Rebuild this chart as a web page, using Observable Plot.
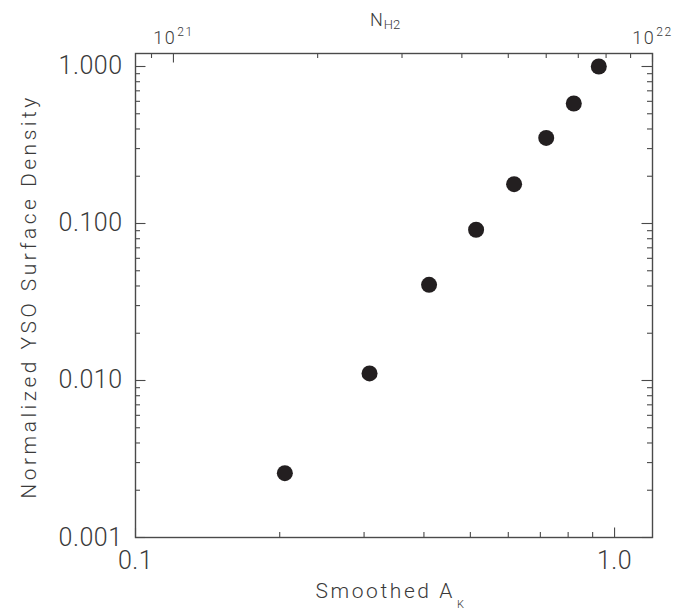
<!DOCTYPE html>
<html><head><meta charset="utf-8">
<script src="https://cdn.jsdelivr.net/npm/d3@7"></script>
<script src="https://cdn.jsdelivr.net/npm/@observablehq/plot@0.6"></script>
<style>
html,body{margin:0;padding:0;background:#fff;}
#chart{width:699px;height:609px;}
</style></head><body><div id="chart"></div>
<script>
// ---- data ----
const smoothedAK = [0.205, 0.308, 0.41, 0.514, 0.617, 0.72, 0.822, 0.927];
const ysoDensity = [0.00257, 0.0111, 0.0407, 0.0912, 0.178, 0.351, 0.581, 1.0];

// ---- tick values / labels ----
const xMajorTicks = [0.1, 1.0];
const xTickLabels = ["0.1", "1.0"];
const xMinorTicks = [0.2, 0.3, 0.4, 0.5, 0.6, 0.7, 0.8, 0.9];
const yMajorTicks = [0.001, 0.01, 0.1, 1];
const yTickLabels = ["0.001", "0.010", "0.100", "1.000"];
const yMinorTicks = [0.002, 0.003, 0.004, 0.005, 0.006, 0.007, 0.008, 0.009,
                     0.02, 0.03, 0.04, 0.05, 0.06, 0.07, 0.08, 0.09,
                     0.2, 0.3, 0.4, 0.5, 0.6, 0.7, 0.8, 0.9];
const nh2MajorTicks = [1e21, 1e22];
const nh2TickLabels = ["10^21", "10^22"];
const nh2MinorTicks = [9e20, 2e21, 3e21, 4e21, 5e21, 6e21, 7e21, 8e21, 9e21];
const NH2_PER_AK = 1e22 / 1.2;

const titleX = "Smoothed A_K";
const titleY = "Normalized YSO Surface Density";
const titleTop = "N_H2";

const data = smoothedAK.map((a, i) => ({ak: a, dens: ysoDensity[i]}));

const W = 699, H = 609;
const mL = 135, mR = 47, mT = 53, mB = 72;
const innerW = W - mL - mR, innerH = H - mT - mB;
const lineCol = "#4a4a4a", textCol = "#3a3a3a";
const FONT = "Roboto, 'Liberation Sans', sans-serif";
const majLen = 9.5, minLen = 5;
const tk = {stroke: lineCol, strokeWidth: 1.1};

const plot = Plot.plot({
  width: W, height: H,
  marginLeft: mL, marginRight: mR, marginTop: mT, marginBottom: mB,
  style: {fontFamily: FONT, background: "#fff", color: textCol},
  x: {type: "log", domain: [0.1, 1.2], axis: null},
  y: {type: "log", domain: [0.001, 1.21], axis: null},
  marks: [
    // bottom ticks (inward)
    Plot.tickX(xMinorTicks, {x: d => d, insetTop: innerH - minLen, ...tk}),
    Plot.tickX(xMajorTicks, {x: d => d, insetTop: innerH - majLen, ...tk}),
    // top ticks (N_H2)
    Plot.tickX(nh2MinorTicks, {x: d => d / NH2_PER_AK, insetBottom: innerH - minLen, ...tk}),
    Plot.tickX(nh2MajorTicks, {x: d => d / NH2_PER_AK, insetBottom: innerH - majLen, ...tk}),
    // left ticks
    Plot.tickY(yMinorTicks, {y: d => d, insetRight: innerW - minLen, ...tk}),
    Plot.tickY(yMajorTicks, {y: d => d, insetRight: innerW - majLen - 1, ...tk}),
    // right ticks
    Plot.tickY(yMinorTicks, {y: d => d, insetLeft: innerW - minLen, ...tk}),
    Plot.tickY(yMajorTicks, {y: d => d, insetLeft: innerW - majLen - 1, ...tk}),
    Plot.frame({stroke: lineCol, strokeWidth: 1.4}),
    // tick labels
    Plot.text(xMajorTicks, {x: d => d, text: (d, i) => xTickLabels[i], frameAnchor: "bottom",
      lineAnchor: "bottom", dy: 31, fontSize: 25, fontWeight: 300, fill: textCol}),
    Plot.text(yMajorTicks, {y: d => d, text: (d, i) => yTickLabels[i], frameAnchor: "left",
      textAnchor: "end", lineAnchor: "middle", dx: -13, fontSize: 25, fontWeight: 300, fill: textCol}),
    Plot.text(nh2MajorTicks, {x: d => d / NH2_PER_AK, text: (d, i) => nh2TickLabels[i], frameAnchor: "top",
      lineAnchor: "bottom", dy: -10, fontSize: 18, fontWeight: 300, fill: textCol}),
    // titles
    Plot.text([titleTop], {text: d => d, frameAnchor: "top", lineAnchor: "bottom", dy: -28, dx: -9,
      fontSize: 18, fontWeight: 300, fill: textCol}),
    Plot.text([titleX], {text: d => d, frameAnchor: "bottom", lineAnchor: "bottom", dy: 60, dx: -3,
      fontSize: 21, fontWeight: 300, fill: textCol}),
    Plot.text([titleY], {text: d => d, frameAnchor: "left", textAnchor: "middle", rotate: -90, lineAnchor: "middle",
      dx: -106, dy: 1, fontSize: 21, fontWeight: 300, fill: textCol}),
    // data
    Plot.dot(data, {x: "ak", y: "dens", r: 8, fill: "#231f20", stroke: "none"})
  ]
});

// superscripts / subscripts and letter spacing
d3.select(plot).selectAll("text").each(function () {
  const t = this.textContent;
  const sel = d3.select(this);
  if (/^10\^\d+$/.test(t)) {
    const [base, sup] = t.split("^");
    sel.text(base);
    sel.append("tspan").attr("font-size", 12).attr("dy", -8).attr("dx", 1).text(sup);
    sel.attr("letter-spacing", 1.5);
  } else if (t === titleTop) {
    sel.text("N");
    sel.append("tspan").attr("font-size", 13).attr("dy", 3).attr("dx", 1).text("H2");
  } else if (t === titleX) {
    sel.text("Smoothed A");
    sel.append("tspan").attr("font-size", 11).attr("dy", 10).attr("dx", 2).text("K");
    sel.attr("letter-spacing", 2.6);
  } else if (t === titleY) {
    sel.attr("letter-spacing", 3.5);
  } else if (yTickLabels.includes(t) || xTickLabels.includes(t)) {
    sel.attr("letter-spacing", 0.5);
  }
});

document.getElementById("chart").appendChild(plot);
</script>
</body></html>
